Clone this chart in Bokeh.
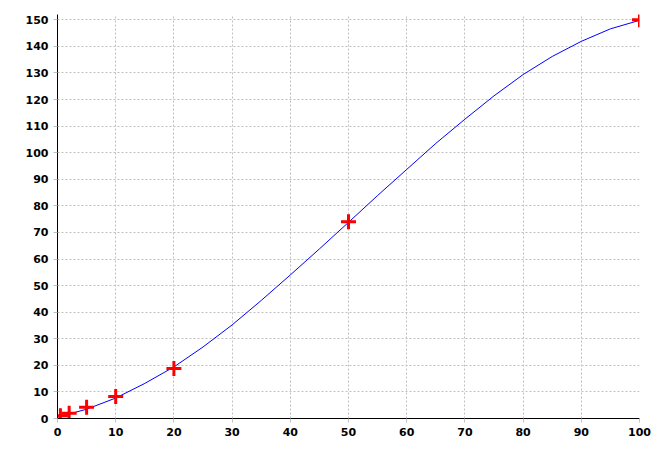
from bokeh.plotting import figure
from bokeh.models import Range1d, FixedTicker
from bokeh.embed import file_html
from bokeh.resources import INLINE

# measured data points (red crosses)
pts_x = [0.5, 2, 5, 10, 20, 50, 100]
pts_y = [1.0, 2.0, 4.2, 8.3, 18.8, 74.0, 150.0]

# fitted curve values
curve_x = [0, 5, 10, 15, 20, 25, 30, 35, 40, 45, 50, 55, 60, 65, 70, 75, 80, 85, 90, 95, 100]
curve_y = [0.5, 3.5, 7.7, 13.2, 19.4, 26.9, 35.2, 44.4, 54.0, 63.8, 73.8, 83.9, 93.7,
           103.5, 112.6, 121.4, 129.4, 136.2, 141.9, 146.6, 149.8]

x_ticks = [0, 10, 20, 30, 40, 50, 60, 70, 80, 90, 100]
y_ticks = [0, 10, 20, 30, 40, 50, 60, 70, 80, 90, 100, 110, 120, 130, 140, 150]

p = figure(width=659, height=448, output_backend="svg", toolbar_location=None,
           x_range=Range1d(0, 100), y_range=Range1d(0, 152),
           min_border_left=57, min_border_top=14, min_border_right=20, min_border_bottom=30)
p.outline_line_color = None
p.background_fill_color = "white"
p.border_fill_color = "white"

for ax, ticks in ((p.xaxis, x_ticks), (p.yaxis, y_ticks)):
    ax.ticker = FixedTicker(ticks=ticks)
    ax.axis_line_color = "black"
    ax.axis_line_width = 1
    ax.major_tick_in = 0
    ax.major_tick_out = 4
    ax.major_tick_line_color = "#c0c0c0"
    ax.minor_tick_line_color = None
    ax.major_label_text_font = "DejaVu Sans"
    ax.major_label_text_font_style = "bold"
    ax.major_label_text_font_size = "11px"
    ax.major_label_text_color = "black"
    ax.major_label_standoff = 5

for g in (p.xgrid, p.ygrid):
    g.grid_line_color = "#c0c0c0"
    g.grid_line_dash = "2 2"
    g.grid_line_width = 1

p.line(curve_x, curve_y, line_color="#0000ff", line_width=1)
p.scatter(pts_x, pts_y, marker="cross", size=15, line_color="#ff0000", line_width=3)

open("out.html", "w").write(file_html(p, INLINE))
